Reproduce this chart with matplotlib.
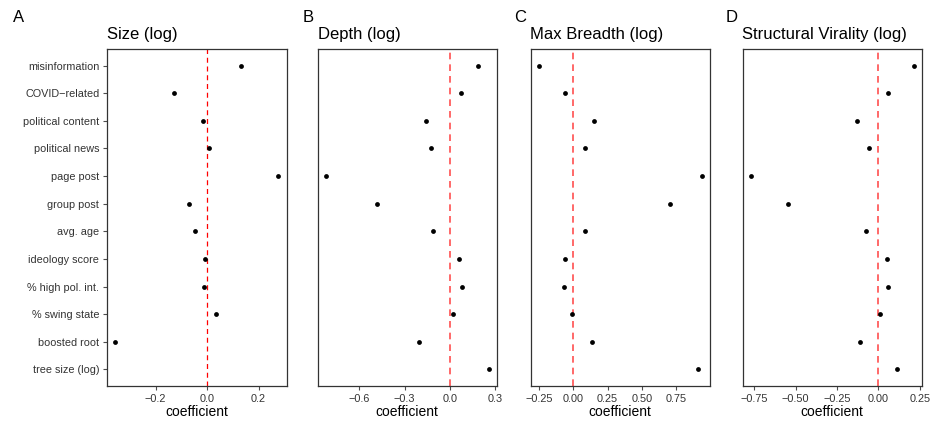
import numpy as np
import matplotlib.pyplot as plt

plt.rcParams['font.family'] = ['Liberation Sans', 'DejaVu Sans']

variables = ['misinformation', 'COVID\u2212related', 'political content', 'political news',
             'page post', 'group post', 'avg. age', 'ideology score',
             '% high pol. int.', '% swing state', 'boosted root', 'tree size (log)']

size_coef = [0.130, -0.127, -0.016, 0.008, 0.277, -0.070, -0.047, -0.008,
             -0.010, 0.035, -0.357, np.nan]
depth_coef = [0.184, 0.077, -0.158, -0.125, -0.823, -0.485, -0.110, 0.061,
              0.081, 0.020, -0.206, 0.259]
breadth_coef = [-0.252, -0.063, 0.150, 0.083, 0.937, 0.706, 0.088, -0.061,
                -0.070, -0.007, 0.136, 0.907]
virality_coef = [0.214, 0.056, -0.131, -0.056, -0.772, -0.544, -0.073, 0.050,
                 0.058, 0.012, -0.113, 0.113]

panels = [
    ('A', 'Size (log)', size_coef, [-0.2, 0.0, 0.2], '{:.1f}'),
    ('B', 'Depth (log)', depth_coef, [-0.6, -0.3, 0.0, 0.3], '{:.1f}'),
    ('C', 'Max Breadth (log)', breadth_coef, [-0.25, 0.0, 0.25, 0.5, 0.75], '{:.2f}'),
    ('D', 'Structural Virality (log)', virality_coef, [-0.75, -0.5, -0.25, 0.0, 0.25], '{:.2f}'),
]

W, H = 932, 421
fig = plt.figure(figsize=(W / 100, H / 100), dpi=100)

lefts = [107, 317.5, 530.5, 742.5]
width = 179.5
top, bottom = 49, 386
label_x = [19, 308, 520, 732]

y = np.arange(len(variables))[::-1] + 1

for i, (letter, title, coef, ticks, fmt) in enumerate(panels):
    ax = fig.add_axes([lefts[i] / W, 1 - bottom / H, width / W, (bottom - top) / H])
    ax.scatter(coef, y, s=12, color='black', zorder=3, linewidths=0)
    if i == 0:
        ax.axvline(0, color='#ff0000', lw=0.9, ls=(0, (4, 3)), zorder=2)
    else:
        ax.axvline(0, color='#ff3030', lw=1.2, alpha=0.85, ls=(0, (4, 3)), zorder=2)
    ax.set_ylim(0.4, 12.6)
    ax.margins(x=0.05)
    ax.set_xticks(ticks)
    ax.set_xticklabels([fmt.format(t).replace('-', '\u2212') for t in ticks])
    if i == 0:
        ax.set_yticks(y)
        ax.set_yticklabels(variables)
    else:
        ax.set_yticks([])
    ax.tick_params(axis='both', labelsize=7.8, colors='#4d4d4d', labelcolor='#333333',
                   length=3, width=0.8, pad=2.5)
    for s in ax.spines.values():
        s.set_color('#333333')
        s.set_linewidth(0.9)
    ax.set_xlabel('coefficient', fontsize=10, labelpad=1, color='black')
    ax.set_title(title, loc='left', fontsize=12, pad=7)
    fig.text(label_x[i] / W, 1 - 17 / H, letter, fontsize=12, ha='center', va='center')

fig.savefig('out.png', dpi=100)
